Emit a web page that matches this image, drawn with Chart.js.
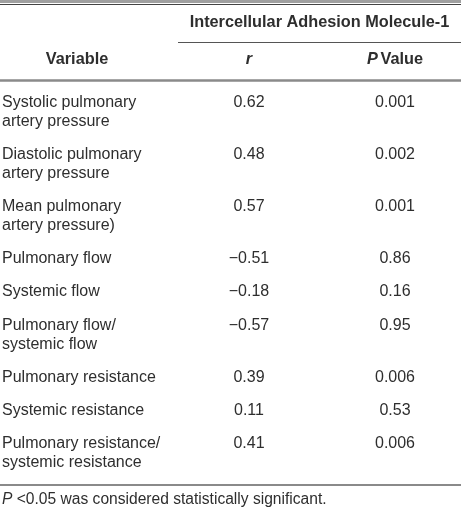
<!DOCTYPE html>
<html>
<head>
<meta charset="utf-8">
<script src="https://cdn.jsdelivr.net/npm/chart.js@4"></script>
<style>
  html, body { margin: 0; padding: 0; background: #fff; }
  #wrap { width: 461px; height: 513px; }
</style>
</head>
<body>
<div id="wrap"><canvas id="tableChart"></canvas></div>
<script>
// table contents
const variables = [
    ['Systolic pulmonary', 'artery pressure'],
    ['Diastolic pulmonary', 'artery pressure'],
    ['Mean pulmonary', 'artery pressure)'],
    ['Pulmonary flow'],
    ['Systemic flow'],
    ['Pulmonary flow/', 'systemic flow'],
    ['Pulmonary resistance'],
    ['Systemic resistance'],
    ['Pulmonary resistance/', 'systemic resistance'],
];
const columns = ['r', 'P Value'];
const rValues = [0.62, 0.48, 0.57, -0.51, -0.18, -0.57, 0.39, 0.11, 0.41];
const pValues = [0.001, 0.002, 0.001, 0.86, 0.16, 0.95, 0.006, 0.53, 0.006];
const groupTitle = 'Intercellular Adhesion Molecule-1';
const rowHeader = 'Variable';
const footnote = ' <0.05 was considered statistically significant.';

// row positions on the y scale, in text lines (gap between rows ~0.74 line)
const rowGap = 0.74;
const rowStart = [];
let acc = 0;
variables.forEach(v => {
    rowStart.push(acc);
    acc += v.length + rowGap;
});
const lastLine = rowStart[rowStart.length - 1] + variables[variables.length - 1].length - 1;

const fmt = v => String(v).replace('-', '\u2212');

const textColor = '#2e2e2e';
const bodyFont = '16px "Liberation Sans", Arial, sans-serif';
const boldFont = 'bold 16.3px "Liberation Sans", Arial, sans-serif';
const boldItalic = 'italic bold 16.3px "Liberation Sans", Arial, sans-serif';
const noteFont = '15.6px "Liberation Sans", Arial, sans-serif';
const noteItalic = 'italic 15.6px "Liberation Sans", Arial, sans-serif';

function hLine(ctx, x1, x2, y, width, color) {
    ctx.beginPath();
    ctx.strokeStyle = color;
    ctx.lineWidth = width;
    ctx.moveTo(x1, y);
    ctx.lineTo(x2, y);
    ctx.stroke();
}

// draws the table text and rules from the chart's scales
const tablePlugin = {
    id: 'tablePlugin',
    beforeDraw(chart) {
        const ctx = chart.ctx;
        ctx.save();
        ctx.fillStyle = '#fff';
        ctx.fillRect(0, 0, chart.width, chart.height);
        ctx.restore();
    },
    afterDatasetsDraw(chart) {
        const ctx = chart.ctx;
        const area = chart.chartArea;
        const xs = chart.scales.x;
        const ys = chart.scales.y;
        const W = chart.width;
        const groupLeft = 178;
        ctx.save();

        // rules
        hLine(ctx, 0, W, 1.5, 3, '#a0a0a0');
        hLine(ctx, 0, W, 4.5, 1, '#444');
        hLine(ctx, groupLeft, W, 42.5, 1, '#555');
        hLine(ctx, 0, W, area.top - 3.5, 2.5, '#8a8a8a');
        hLine(ctx, 0, W, area.bottom + 3, 2, '#8a8a8a');

        ctx.fillStyle = textColor;
        ctx.textBaseline = 'middle';

        // headers
        ctx.font = boldFont;
        ctx.textAlign = 'center';
        ctx.fillText(groupTitle, (groupLeft + W) / 2, 23);
        ctx.fillText(rowHeader, 77, 60);

        const rx = xs.getPixelForValue(0);
        ctx.font = boldItalic;
        ctx.fillText(columns[0], rx, 60);

        const px = xs.getPixelForValue(1);
        ctx.font = boldItalic;
        const pW = ctx.measureText('P').width;
        ctx.font = boldFont;
        const vW = ctx.measureText(' Value').width;
        let sx = px - (pW + vW - 2) / 2;
        ctx.textAlign = 'left';
        ctx.font = boldItalic;
        ctx.fillText('P', sx, 60);
        ctx.font = boldFont;
        ctx.fillText(' Value', sx + pW - 2, 60);

        // variable names
        ctx.font = bodyFont;
        ctx.textAlign = 'left';
        variables.forEach((lines, i) => {
            lines.forEach((t, k) => {
                ctx.fillText(t, 2, ys.getPixelForValue(rowStart[i] + k));
            });
        });

        // values from dataset points
        ctx.textAlign = 'center';
        chart.data.datasets.forEach((ds, d) => {
            const meta = chart.getDatasetMeta(d);
            meta.data.forEach((pt, i) => {
                ctx.fillText(ds.data[i].v, pt.x, pt.y);
            });
        });

        // footnote
        ctx.textAlign = 'left';
        ctx.font = noteItalic;
        ctx.fillText('P', 2, 500);
        const fW = ctx.measureText('P').width;
        ctx.font = noteFont;
        ctx.fillText(footnote, 2 + fW, 500);

        ctx.restore();
    },
};

const tableChart = new Chart(document.getElementById('tableChart'), {
    type: 'scatter',
    data: {
        datasets: [
            {
                label: columns[0],
                data: rValues.map((v, i) => ({ x: columns[0], y: rowStart[i], v: fmt(v) })),
                pointRadius: 0,
            },
            {
                label: columns[1],
                data: pValues.map((v, i) => ({ x: columns[1], y: rowStart[i], v: fmt(v) })),
                pointRadius: 0,
            },
        ],
    },
    options: {
        responsive: true,
        maintainAspectRatio: false,
        animation: false,
        // column centres sit on the ends of the x scale
        layout: { padding: { left: 249, right: 66, top: 84, bottom: 31 } },
        scales: {
            x: { type: 'category', labels: columns, offset: false, display: false },
            y: { type: 'linear', reverse: true, min: -0.95, max: lastLine + 1.0, display: false },
        },
        plugins: {
            legend: { display: false },
            tooltip: { enabled: false },
        },
    },
    plugins: [tablePlugin],
});
</script>
</body>
</html>
